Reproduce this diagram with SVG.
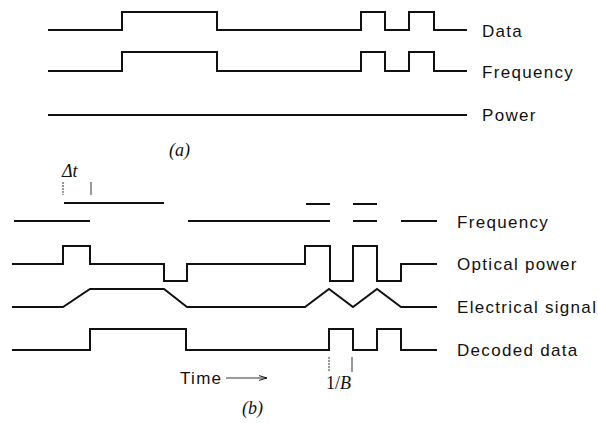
<svg xmlns="http://www.w3.org/2000/svg" width="598" height="423" viewBox="0 0 598 423">
<style>
.w{fill:none;stroke:#111;stroke-width:2;stroke-linejoin:miter}
.t{fill:none;stroke:#333;stroke-width:1}
.lbl{font-family:"Liberation Sans",Arial,sans-serif;font-size:17px;letter-spacing:1.3px;fill:#111}
.it{font-family:"Liberation Serif","Times New Roman",serif;font-size:18px;font-style:italic;fill:#111}
.sf{font-family:"Liberation Serif","Times New Roman",serif;font-size:18px;fill:#111}
</style>
<defs>
<marker id="ah" viewBox="0 0 10 10" refX="10" refY="5" markerWidth="8" markerHeight="8" markerUnits="userSpaceOnUse" orient="auto">
<path d="M0,2 L10,5 L0,8" fill="none" stroke="#111" stroke-width="1.2"/>
</marker>
</defs>
<rect width="598" height="423" fill="#fff"/>
<g id="a-data">
<path class="w" d="M48,30 H122 V12 H217 V30 H361 V12 H385 V30 H409 V12 H434 V30 H467"/>
<text class="lbl" x="482" y="37">Data</text>
</g>
<g id="a-frequency">
<path class="w" d="M48,71 H122 V52 H217 V71 H361 V52 H385 V71 H409 V52 H434 V71 H467"/>
<text class="lbl" x="482" y="78">Frequency</text>
</g>
<g id="a-power">
<path class="w" d="M48,115 H467"/>
<text class="lbl" x="482" y="121">Power</text>
</g>
<text class="it" x="169" y="156">(a)</text>
<g id="b-frequency">
<path class="w" d="M14,221 H90 M64,203 H164 M188,221 H330 M306,204 H330 M353,204 H377 M353,221 H377 M401,221 H437"/>
<text class="lbl" x="457" y="228">Frequency</text>
</g>
<g id="b-optical">
<path class="w" d="M12,264 H63 V246 H90 V264 H164 V281 H187 V264 H305 V246 H330 V281 H353 V246 H377 V281 H401 V264 H437"/>
<text class="lbl" x="457" y="270">Optical power</text>
</g>
<g id="b-electrical">
<path class="w" d="M12,307 H63 L90,289 H164 L187,307 H305 L329,289 L353,307 L377,289 L401,307 H437"/>
<text class="lbl" x="457" y="313">Electrical signal</text>
</g>
<g id="b-decoded">
<path class="w" d="M12,350 H90 V329 H186 V350 H329 V329 H353 V350 H377 V329 H401 V350 H437"/>
<text class="lbl" x="457" y="356">Decoded data</text>
</g>
<g id="connectors">
<path class="t" d="M63,182 V195" stroke-dasharray="2,1"/>
<path class="t" d="M91,182 V195"/>
<path class="t" d="M329,357 V372" stroke-dasharray="2,1"/>
<path class="t" d="M352,357 V372"/>
<path class="t" d="M226,378 H267" marker-end="url(#ah)"/>
</g>
<text class="it" x="62" y="177">Δt</text>
<text class="sf" x="326" y="389">1/<tspan font-style="italic">B</tspan></text>
<text class="lbl" x="180" y="384">Time</text>
<text class="it" x="242" y="414">(b)</text>
</svg>
